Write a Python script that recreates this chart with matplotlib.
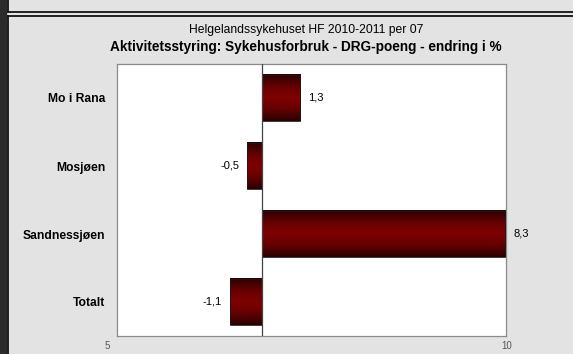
import numpy as np
import matplotlib.pyplot as plt
from matplotlib.colors import LinearSegmentedColormap
from matplotlib.patches import Rectangle

plt.rcParams['font.family'] = ['Liberation Sans', 'DejaVu Sans']

# data
categories = ["Mo i Rana", "Mosjøen", "Sandnessjøen", "Totalt"]
values = [1.3, -0.5, 8.3, -1.1]
labels = ["1,3", "-0,5", "8,3", "-1,1"]
subtitle = "Helgelandssykehuset HF 2010-2011 per 07"
title = "Aktivitetsstyring: Sykehusforbruk - DRG-poeng - endring i %"

W, H = 573, 354
fig = plt.figure(figsize=(W / 100, H / 100), dpi=100)
fig.patch.set_facecolor("#e3e3e3")

# frame decorations around the panel
deco = fig.add_axes([0, 0, 1, 1])
deco.set_xlim(0, W); deco.set_ylim(H, 0); deco.axis("off")
deco.add_patch(Rectangle((0, 0), 6, H, color="#2b2b2b"))
deco.plot([7.5, W], [11.5, 11.5], color="#111111", lw=1.3)
deco.plot([7.5, 7.5], [0, 11.5], color="#111111", lw=1.3)
deco.plot([7.5, W], [15.5, 15.5], color="#111111", lw=1.3)
deco.plot([7.5, 7.5], [15.5, H], color="#111111", lw=1.3)

fig.text(306 / W, 1 - 30 / H, subtitle, ha="center", va="center", fontsize=8.7)
fig.text(306 / W, 1 - 46.5 / H, title, ha="center", va="center",
         fontsize=9.8, fontweight="bold")

ax = fig.add_axes([117 / W, 18 / H, (506 - 117) / W, (336 - 64) / H])
ax.set_facecolor("white")

cmap = LinearSegmentedColormap.from_list(
    "bar", ["#2a0000", "#650000", "#800000", "#650000", "#2a0000"])
grad = np.linspace(0, 1, 64).reshape(-1, 1)
h = 0.68
for i, (v, lab) in enumerate(zip(values, labels)):
    x0, x1 = min(0, v), max(0, v)
    ax.imshow(grad, cmap=cmap, aspect="auto",
              extent=(x0, x1, i + h / 2, i - h / 2), zorder=2)
    ax.add_patch(Rectangle((x0, i - h / 2), x1 - x0, h, fill=False,
                           edgecolor="#1a1a1a", lw=0.6, zorder=3))
    off = 0.27 if v > 0 else -0.27
    ax.text(v + off, i, lab, ha="left" if v > 0 else "right",
            va="center", fontsize=8)

ax.set_xlim(-4.95, 8.33)
ax.set_ylim(3.5, -0.5)
ax.axvline(0, color="#444444", lw=0.9, zorder=4)
ax.set_xticks([])
ax.set_yticks(range(len(categories)))
ax.set_yticklabels(categories, fontsize=8.7, fontweight="bold")
ax.tick_params(axis="y", length=0, pad=8.5)
for s in ax.spines.values():
    s.set_color("#8a8a8a")
    s.set_linewidth(0.9)

# partly hidden axis labels near the bottom edge
fig.text(107 / W, 1 - 346 / H, "5", ha="center", va="center",
         fontsize=7, color="#555555")
fig.text(507 / W, 1 - 346 / H, "10", ha="center", va="center",
         fontsize=7, color="#555555")

fig.savefig("out.png", dpi=100, facecolor=fig.get_facecolor())
